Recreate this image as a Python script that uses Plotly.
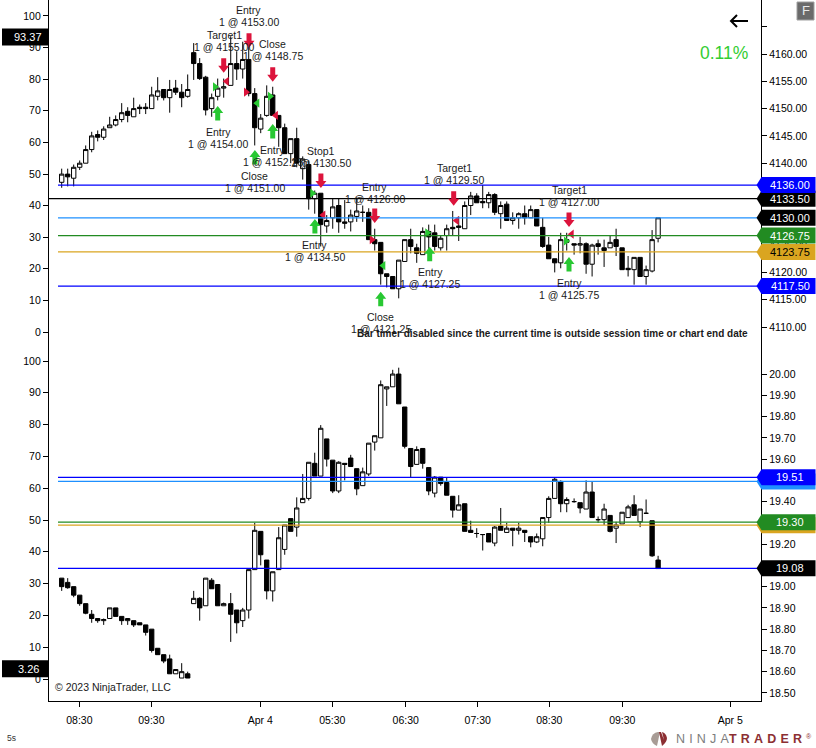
import plotly.graph_objects as go

# 5 minute bars, upper pane (ES) and lower pane (VIX-like)
es_open = [4136.5, 4138, 4137.25, 4139.25, 4140, 4142.5, 4145.25, 4144.75, 4146.5, 4147,
           4148, 4149.5, 4148.5, 4150.25, 4150.25, 4150, 4152.25, 4153.5, 4152, 4153.75,
           4153, 4152.25, 4160.25, 4158.25, 4155.75, 4150, 4152.25, 4153.75, 4154.25, 4158.25,
           4157.25, 4159, 4152.75, 4146.25, 4148.75, 4152.5, 4148.75, 4146.5, 4141.75, 4144.5,
           4139, 4139.75, 4133.5, 4134.5, 4128.5, 4130, 4132.25, 4129.25, 4129.25, 4130.25,
           4131, 4131, 4126, 4125.5, 4119.75, 4119.25, 4117, 4122, 4126, 4124.5,
           4123.25, 4127.5, 4127.25, 4124.5, 4126.75, 4128.25, 4128.5, 4128, 4132.25, 4134,
           4133, 4132.75, 4134.25, 4130.75, 4132.5, 4129.5, 4130, 4130.75, 4130, 4131.5,
           4128.25, 4125, 4122.5, 4121.75, 4126, 4125.25, 4125, 4125.25, 4121.5, 4125.25,
           4124.5, 4124.5, 4126, 4124.5, 4120.75, 4120.5, 4122.75, 4119.25, 4120.25, 4126.25]
es_high = [4139, 4139, 4139.75, 4140.5, 4143.25, 4145.75, 4146, 4146.75, 4148.5, 4148.75,
           4151, 4150.25, 4152, 4150.75, 4151, 4154, 4155.75, 4153.5, 4155.25, 4155.25,
           4154.5, 4156.25, 4162, 4159.25, 4156, 4152.75, 4155.5, 4155.5, 4163.25, 4160.5,
           4162.25, 4162.5, 4153.75, 4149, 4154.25, 4154, 4148.75, 4147.25, 4144.5, 4146.5,
           4141.25, 4140.5, 4135, 4134.5, 4130.5, 4133.5, 4133.5, 4133.25, 4131.5, 4133.75,
           4132.25, 4131.75, 4128, 4125.5, 4119.75, 4119.25, 4122.25, 4126, 4128, 4125.25,
           4128.25, 4128.75, 4128.75, 4126.75, 4128.75, 4131.25, 4130.25, 4133, 4134.75, 4134.5,
           4136, 4134.75, 4134.5, 4133, 4133, 4131, 4131, 4132.25, 4132.25, 4131.5,
           4130, 4126.5, 4122.5, 4127.25, 4127.25, 4125.25, 4126.5, 4125.5, 4125.25, 4126,
           4126, 4126.75, 4128, 4124.5, 4123, 4122.75, 4122.75, 4121.25, 4127.75, 4130]
es_low = [4135.5, 4135.75, 4135.75, 4138.75, 4140, 4142, 4144, 4144.25, 4146.5, 4146.75,
          4147.5, 4147.5, 4148.5, 4149, 4149, 4150, 4151.5, 4151.5, 4149.25, 4152.5,
          4150.25, 4152, 4155.25, 4155.25, 4148.75, 4148.5, 4151.5, 4152, 4154.25, 4155.25,
          4155.5, 4152.25, 4143.25, 4145.5, 4148.5, 4148.75, 4143, 4141.75, 4140, 4139.25,
          4137, 4131.5, 4130.75, 4124.75, 4127.25, 4128, 4127.25, 4128, 4127.5, 4129.25,
          4129.25, 4126, 4124, 4117.75, 4117.25, 4117, 4115.25, 4122, 4123.5, 4121.75,
          4123.25, 4122.25, 4124, 4124, 4124, 4126.75, 4125.75, 4128, 4130.5, 4132.75,
          4131.75, 4131.75, 4130.5, 4128, 4129.5, 4128.75, 4128, 4128.75, 4130, 4128.5,
          4124.5, 4122.5, 4120, 4120.75, 4124, 4123.25, 4123.5, 4119.75, 4119.25, 4123.25,
          4121, 4124.5, 4123, 4120.5, 4119.25, 4117.75, 4119.25, 4117.75, 4120, 4125.5]
es_close = [4138, 4137.5, 4139.25, 4140, 4142.5, 4145, 4144.75, 4146.25, 4147, 4148,
            4149.25, 4148.75, 4150, 4150, 4150, 4152.5, 4153.25, 4152, 4153.5, 4153,
            4152, 4153.5, 4158.25, 4155.5, 4149.75, 4152, 4153.75, 4154, 4158.25, 4157.25,
            4159, 4152.75, 4146.5, 4148.25, 4152.25, 4148.75, 4146.5, 4141.75, 4144.5, 4140,
            4140.75, 4133.5, 4134.5, 4128.75, 4129.5, 4132, 4129.25, 4129, 4130.5, 4131.25,
            4131, 4126, 4125.25, 4119.75, 4119.25, 4117, 4122.25, 4126, 4124.75, 4123.5,
            4127.5, 4126.5, 4124.75, 4126.25, 4128, 4128, 4128.25, 4132.25, 4134, 4132.75,
            4132.75, 4134.25, 4131, 4132.25, 4129.5, 4130, 4130.75, 4130, 4131.5, 4128.5,
            4124.75, 4122.5, 4121.75, 4126, 4125.5, 4125, 4125.25, 4121.5, 4125, 4124.75,
            4124, 4125.5, 4124.75, 4120.5, 4120.5, 4122.75, 4119.25, 4120.5, 4126, 4130]

vx_open = [19.04, 19.02, 19.00, 18.96, 18.92, 18.87, 18.85, 18.84, 18.85, 18.90,
           18.86, 18.84, 18.84, 18.83, 18.82, 18.80, 18.71, 18.68, 18.66, 18.59,
           18.57, 18.59, 18.92, 18.945, 18.91, 19.03, 19.01, 18.91, 18.92, 18.89,
           18.84, 18.89, 19.08, 19.26, 19.125, 18.98, 19.08, 19.175, 19.32, 19.28,
           19.395, 19.415, 19.58, 19.52, 19.695, 19.595, 19.45, 19.58, 19.605, 19.555,
           19.475, 19.53, 19.68, 19.70, 19.93, 19.94, 20.00, 19.845, 19.65, 19.575,
           19.65, 19.56, 19.44, 19.515, 19.49, 19.425, 19.36, 19.39, 19.265, 19.25,
           19.245, 19.25, 19.205, 19.285, 19.255, 19.275, 19.265, 19.265, 19.235, 19.21,
           19.225, 19.325, 19.415, 19.495, 19.39, 19.40, 19.395, 19.365, 19.445, 19.315,
           19.315, 19.335, 19.275, 19.295, 19.325, 19.385, 19.305, 19.345, 19.31, 19.125]
vx_high = [19.04, 19.04, 19.00, 18.96, 18.92, 18.89, 18.85, 18.85, 18.90, 18.90,
           18.86, 18.85, 18.84, 18.83, 18.82, 18.80, 18.71, 18.68, 18.68, 18.61,
           18.64, 18.60, 18.98, 18.95, 19.04, 19.04, 19.01, 18.925, 18.97, 18.89,
           18.90, 19.08, 19.30, 19.26, 19.125, 19.07, 19.28, 19.29, 19.32, 19.42,
           19.53, 19.585, 19.63, 19.76, 19.695, 19.595, 19.59, 19.58, 19.62, 19.555,
           19.56, 19.675, 19.71, 19.97, 19.94, 20.02, 20.03, 19.845, 19.65, 19.66,
           19.65, 19.56, 19.52, 19.515, 19.515, 19.425, 19.43, 19.39, 19.31, 19.275,
           19.245, 19.25, 19.285, 19.37, 19.30, 19.275, 19.30, 19.265, 19.235, 19.25,
           19.325, 19.425, 19.515, 19.50, 19.42, 19.415, 19.395, 19.50, 19.495, 19.33,
           19.39, 19.335, 19.305, 19.35, 19.385, 19.43, 19.365, 19.41, 19.31, 19.145]
vx_low = [18.98, 18.99, 18.95, 18.91, 18.87, 18.83, 18.83, 18.82, 18.85, 18.86,
          18.82, 18.82, 18.81, 18.82, 18.77, 18.69, 18.68, 18.64, 18.59, 18.59,
          18.57, 18.57, 18.92, 18.84, 18.91, 18.99, 18.91, 18.91, 18.74, 18.78,
          18.81, 18.85, 19.08, 19.10, 18.94, 18.93, 19.08, 19.15, 19.26, 19.235,
          19.395, 19.405, 19.52, 19.52, 19.565, 19.44, 19.44, 19.50, 19.565, 19.43,
          19.475, 19.52, 19.64, 19.70, 19.85, 19.94, 19.86, 19.65, 19.515, 19.575,
          19.555, 19.43, 19.42, 19.475, 19.43, 19.325, 19.36, 19.26, 19.255, 19.23,
          19.17, 19.21, 19.19, 19.265, 19.255, 19.19, 19.245, 19.21, 19.185, 19.205,
          19.19, 19.30, 19.415, 19.35, 19.35, 19.395, 19.345, 19.365, 19.325, 19.30,
          19.29, 19.255, 19.205, 19.295, 19.325, 19.335, 19.28, 19.345, 19.14, 19.085]
vx_close = [19.00, 18.995, 18.96, 18.92, 18.875, 18.85, 18.84, 18.845, 18.90, 18.86,
            18.84, 18.85, 18.82, 18.82, 18.785, 18.70, 18.68, 18.65, 18.59, 18.61,
            18.60, 18.57, 18.945, 18.90, 19.04, 18.99, 18.91, 18.92, 18.87, 18.83,
            18.89, 19.08, 19.265, 19.15, 18.98, 19.07, 19.23, 19.29, 19.26, 19.37,
            19.415, 19.585, 19.52, 19.745, 19.60, 19.45, 19.585, 19.575, 19.565, 19.46,
            19.54, 19.675, 19.71, 19.95, 19.94, 20.00, 19.86, 19.66, 19.565, 19.645,
            19.58, 19.45, 19.515, 19.485, 19.43, 19.36, 19.385, 19.26, 19.255, 19.25,
            19.245, 19.21, 19.28, 19.265, 19.275, 19.265, 19.275, 19.255, 19.21, 19.235,
            19.325, 19.415, 19.505, 19.39, 19.41, 19.40, 19.37, 19.445, 19.325, 19.315,
            19.365, 19.26, 19.29, 19.35, 19.375, 19.335, 19.365, 19.345, 19.145, 19.085]

# the bars sit a hair further apart across the two session joins
bar_x = [i + (0.17 if i >= 28 else 0) + (0.23 if i >= 85 else 0) for i in range(len(es_open))]

tick_pos = [2.95, 14.95, 33.1, 45.1, 57.33, 69.33, 81.27, 93.43, 111.43]
tick_text = ["08:30", "09:30", "Apr 4", "05:30", "06:30", "07:30", "08:30", "09:30", "Apr 5"]

es_ticks = [4110, 4115, 4120, 4125, 4130, 4135, 4140, 4145, 4150, 4155, 4160, 4165]
vx_ticks = [18.5, 18.6, 18.7, 18.8, 18.9, 19.0, 19.1, 19.2, 19.3, 19.4, 19.5, 19.6, 19.7, 19.8, 19.9, 20.0]
osc_ticks = [0, 10, 20, 30, 40, 50, 60, 70, 80, 90, 100]

# price, line colour, flag colour, flag text colour, line start (paper px)
es_levels = [(4117.5, "#0000ff", "#0000ff", "white", 58), (4123.75, "#daa520", "#daa520", "black", 58),
             (4126.75, "#228b22", "#228b22", "white", 58), (4130, "#1e90ff", "#000000", "white", 58),
             (4133.5, "#000000", "#000000", "white", 49), (4136, "#0000ff", "#0000ff", "white", 58)]
vx_levels = [(19.086, "#0000ff", "#000000", "white", "19.08"), (19.289, "#daa520", "#daa520", "white", ""),
             (19.303, "#228b22", "#228b22", "white", "19.30"), (19.495, "#1e90ff", "#1e90ff", "white", ""),
             (19.514, "#0000ff", "#0000ff", "white", "19.51")]

# executions: bar position, price, text
buy_arrow_x = [26, 32.2, 35.17, 42.2, 53.17, 61.33, 84.55]
buy_arrow_y = [4150.48, 4142.42, 4147.18, 4129.78, 4116.47, 4124.71, 4122.82]
sell_arrow_x = [27, 31.22, 35.17, 43.2, 52.17, 65.33, 84.55]
sell_arrow_y = [4156.58, 4161.15, 4154.93, 4135.46, 4129.05, 4132.22, 4128.32]

buy_right_x = [25.55, 34.72, 41.76, 60.93, 84.05]
buy_right_y = [4154, 4152.25, 4134.5, 4127.25, 4125.75]
buy_left_x = [32.6, 53.6]
buy_left_y = [4151, 4121.25]
sell_right_x = [30.72, 51.67]
sell_right_y = [4153, 4126]
sell_left_x = [27.5, 35.7, 43.6, 65.83, 85]
sell_left_y = [4155, 4148.75, 4130.5, 4129.5, 4127]

exec_labels = ["Entry", "Target1", "Close", "Entry", "Entry", "Close", "Stop1", "Entry",
               "Entry", "Entry", "Close", "Target1", "Target1", "Entry"]
exec_fills = ["1 @ 4153.00", "1 @ 4155.00", "1 @ 4148.75", "1 @ 4154.00", "1 @ 4152.25", "1 @ 4151.00",
              "1 @ 4130.50", "1 @ 4126.00", "1 @ 4134.50", "1 @ 4127.25", "1 @ 4121.25", "1 @ 4129.50",
              "1 @ 4127.00", "1 @ 4125.75"]
exec_x = [31.2, 27.05, 35.2, 26.05, 35.17, 32.2, 43.2, 52.2, 42.2, 61.4, 53.2, 65.4, 84.55, 84.55]
exec_y = [4166.96, 4162.38, 4160.73, 4144.62, 4141.32, 4136.56, 4141.14, 4134.63,
          4123.92, 4118.97, 4110.73, 4138.02, 4134, 4116.96]

FONT = "Liberation Sans"
W, H = 816, 748
GREEN = "#28c832"
RED = "#dc143c"


def px(x):
    return x / W


def py(y):
    return 1 - y / H


def note(x, y, text, size, color, anchor="center", yref="paper"):
    # paper annotations anchor by thirds unless told otherwise
    return dict(xref="paper", yref=yref, x=x, y=y, text=text, showarrow=False,
                xanchor=anchor, yanchor="middle", font=dict(family=FONT, size=size, color=color))


fig = go.Figure()

candle_style = dict(
    increasing=dict(fillcolor="white", line=dict(color="black", width=1)),
    decreasing=dict(fillcolor="black", line=dict(color="black", width=1)),
    hoverinfo="skip",
    showlegend=False,
)
fig.add_trace(go.Candlestick(x=bar_x, open=es_open, high=es_high, low=es_low, close=es_close,
                             xaxis="x", yaxis="y", **candle_style))
fig.add_trace(go.Candlestick(x=bar_x, open=vx_open, high=vx_high, low=vx_low, close=vx_close,
                             xaxis="x", yaxis="y3", **candle_style))

# empty traces so the left hand 0-100 scales get drawn
fig.add_trace(go.Scatter(x=[0], y=[50], mode="markers", marker=dict(opacity=0), yaxis="y2", showlegend=False))
fig.add_trace(go.Scatter(x=[0], y=[50], mode="markers", marker=dict(opacity=0), yaxis="y4", showlegend=False))

for xs, ys, sym, col in [(buy_right_x, buy_right_y, "triangle-right", GREEN),
                         (buy_left_x, buy_left_y, "triangle-left", GREEN),
                         (sell_right_x, sell_right_y, "triangle-right", RED),
                         (sell_left_x, sell_left_y, "triangle-left", RED)]:
    fig.add_trace(go.Scatter(x=xs, y=ys, mode="markers", showlegend=False,
                             marker=dict(symbol=sym, size=8, color=col, line=dict(width=0))))

shapes = []
annotations = []

for price, line_col, _, _, start in es_levels:
    shapes.append(dict(type="line", xref="paper", yref="y", x0=px(start), x1=px(761), y0=price, y1=price,
                       line=dict(color=line_col, width=1.2)))
for price, line_col, _, _, _ in vx_levels:
    shapes.append(dict(type="line", xref="paper", yref="y3", x0=px(58), x1=px(761), y0=price, y1=price,
                       line=dict(color=line_col, width=1.2)))

FLAG = "M-5,0 L0,8 L54,8 L54,-8 L0,-8 Z"
for price, _, flag_col, text_col, _ in es_levels:
    shapes.append(dict(type="path", xref="paper", yref="y", xsizemode="pixel", ysizemode="pixel",
                       xanchor=px(761.5), yanchor=price, path=FLAG, fillcolor=flag_col, line=dict(width=0)))
    annotations.append(note(px(790), price, "%.2f" % price, 11, text_col, yref="y"))
for price, _, flag_col, text_col, label in vx_levels:
    shapes.append(dict(type="path", xref="paper", yref="y3", xsizemode="pixel", ysizemode="pixel",
                       xanchor=px(761.5), yanchor=price, path=FLAG, fillcolor=flag_col, line=dict(width=0)))
    if label:
        annotations.append(note(px(790), price, label, 11, text_col, yref="y3"))

# left value boxes
for value, axis in [(93.37, "y2"), (3.26, "y4")]:
    shapes.append(dict(type="rect", xref="paper", yref=axis, ysizemode="pixel", yanchor=value,
                       x0=px(2), x1=px(48), y0=-8.5, y1=8.5, fillcolor="black", line=dict(width=0)))
    annotations.append(note(px(28), value, "%.2f" % value, 11, "white", yref=axis))

UP = "M0,0 L5.5,-7 L2.5,-7 L2.5,-14.5 L-2.5,-14.5 L-2.5,-7 L-5.5,-7 Z"
DOWN = "M0,0 L5.5,7 L2.5,7 L2.5,14.5 L-2.5,14.5 L-2.5,7 L-5.5,7 Z"
for x, y in zip(buy_arrow_x, buy_arrow_y):
    shapes.append(dict(type="path", xref="x", yref="y", xsizemode="pixel", ysizemode="pixel",
                       xanchor=x, yanchor=y, path=UP, fillcolor=GREEN, line=dict(width=0)))
for x, y in zip(sell_arrow_x, sell_arrow_y):
    shapes.append(dict(type="path", xref="x", yref="y", xsizemode="pixel", ysizemode="pixel",
                       xanchor=x, yanchor=y, path=DOWN, fillcolor=RED, line=dict(width=0)))

for label, fill, x, y in zip(exec_labels, exec_fills, exec_x, exec_y):
    annotations.append(dict(x=x, y=y, xref="x", yref="y", text=label, yshift=6, showarrow=False,
                            font=dict(family=FONT, size=10.5, color="#1a1a1a")))
    annotations.append(dict(x=x, y=y, xref="x", yref="y", text=fill, yshift=-6, showarrow=False,
                            font=dict(family=FONT, size=10.5, color="#1a1a1a")))

annotations.append(note(px(750), py(333), "<b>Bar timer disabled since the current time is outside session time or chart end date</b>",
                        10, "#1a1a1a", "right"))
annotations.append(note(px(53), py(687), "© 2023 NinjaTrader, LLC", 10.5, "#1a1a1a", "left"))
annotations.append(note(px(749.5), py(53), "0.11%", 17.5, "#32cd32", "right"))
annotations.append(note(px(5), py(738), "5s", 8.5, "#333333", "left"))
annotations.append(note(px(805.5), py(11), "F", 13, "#e8e8e8"))
annotations.append(note(px(674), py(738.5), "N\u2004I\u2004N\u2004J\u2004A", 12.5, "#7d7d7d", "left"))
annotations.append(note(px(727), py(738.5), "<b>T\u2004R\u2004A\u2004D\u2004E\u2004R</b>", 12.5, "#8c2f33", "left"))
annotations.append(note(px(804), py(736), "®", 7, "#8c2f33", "left"))

# back arrow and F button
shapes.append(dict(type="path", xref="paper", yref="paper", xsizemode="pixel", ysizemode="pixel",
                   xanchor=px(730), yanchor=py(21), path="M18,0 L1,0 M7,6 L1,0 L7,-6",
                   line=dict(color="black", width=2)))
shapes.append(dict(type="rect", xref="paper", yref="paper", x0=px(797), x1=px(814), y0=py(20), y1=py(2),
                   fillcolor="#6a6a6a", line=dict(color="#a0a0a0", width=1)))
# logo mark
shapes.append(dict(type="path", xref="paper", yref="paper", xsizemode="pixel", ysizemode="pixel",
                   xanchor=px(651), yanchor=py(739), path="M0,0 Q1,6 7,7 L9,7 L6,-7 Q1,-5 0,0 Z",
                   fillcolor="#a89c95", line=dict(width=0)))
shapes.append(dict(type="path", xref="paper", yref="paper", xsizemode="pixel", ysizemode="pixel",
                   xanchor=px(651), yanchor=py(739), path="M8,7 L11,-7 Q16,-3 16,1 Q15,6 11,7 L13,-1 L10,7 Z",
                   fillcolor="#8c2f33", line=dict(width=0)))

axis_font = dict(family=FONT, size=10.5, color="black")
y_common = dict(showgrid=False, zeroline=False, showline=True, linecolor="black", linewidth=1.3,
                ticks="outside", ticklen=5, tickcolor="black", tickwidth=1, tickfont=axis_font,
                tickmode="array", fixedrange=True)

fig.update_layout(
    width=W, height=H,
    margin=dict(l=0, r=0, t=0, b=0),
    paper_bgcolor="white", plot_bgcolor="white",
    showlegend=False,
    boxgap=0.28, boxgroupgap=0,
    shapes=shapes,
    annotations=annotations,
    xaxis=dict(domain=[px(49), px(761)], range=[-2.117, 116.55], anchor="y3",
               tickmode="array", tickvals=tick_pos, ticktext=tick_text, tickfont=axis_font,
               showgrid=False, zeroline=False, showline=True, linecolor="black", linewidth=1.3,
               ticks="outside", ticklen=5, tickcolor="black", ticklabelstandoff=4,
               rangeslider=dict(visible=False), fixedrange=True),
    yaxis=dict(domain=[py(346), 1], range=[4106.52, 4169.89], side="right", anchor="x",
               tickvals=es_ticks, ticktext=["%.2f" % t if t != 4165 else "" for t in es_ticks], **y_common),
    yaxis2=dict(range=[-4.43, 105.06], side="left", overlaying="y", anchor="x",
                tickvals=osc_ticks, ticktext=[str(t) for t in osc_ticks], **y_common),
    yaxis3=dict(domain=[py(701), py(346)], range=[18.462, 20.132], side="right", anchor="x",
                tickvals=vx_ticks, ticktext=["%.2f" % t for t in vx_ticks], **y_common),
    yaxis4=dict(range=[-6.92, 104.72], side="left", overlaying="y3", anchor="x",
                tickvals=osc_ticks, ticktext=[str(t) for t in osc_ticks], **y_common),
)

# page margin would push the 816x748 figure off by 8px
fig.write_html("out.html", config={"displayModeBar": False},
               post_script="document.body.style.margin='0';")
